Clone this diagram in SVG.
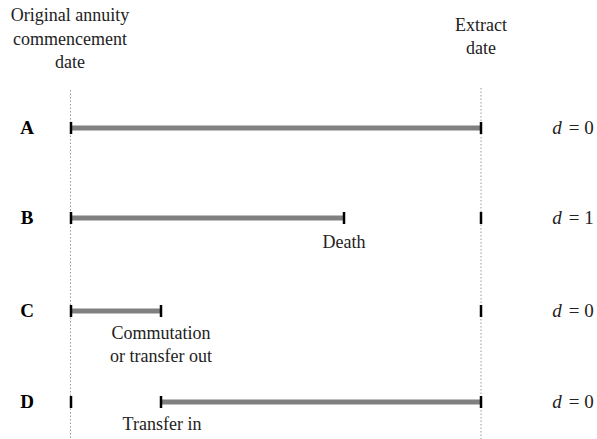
<svg xmlns="http://www.w3.org/2000/svg" width="597" height="439" viewBox="0 0 597 439">
<style>
text{font-family:"Liberation Serif","DejaVu Serif",serif;font-size:18px;fill:#222;text-anchor:middle}
.lbl{font-weight:bold;font-size:19px;fill:#000}
.guide{stroke:#999;stroke-width:1;stroke-dasharray:1.5 2;fill:none}
.bar{stroke:#808080;stroke-width:5;fill:none}
.tick{stroke:#000;stroke-width:2.5;fill:none}
.m{font-size:19px}
</style>
<rect width="597" height="439" fill="#fff"/>
<g id="guides">
<line class="guide" x1="70.5" y1="90" x2="70.5" y2="439"/>
<line class="guide" x1="481" y1="88" x2="481" y2="439"/>
</g>
<g id="headers">
<text x="70" y="21">Original annuity</text>
<text x="70" y="45">commencement</text>
<text x="70" y="68">date</text>
<text x="481" y="31">Extract</text>
<text x="481" y="54">date</text>
</g>
<g id="connectors">
<line class="bar" x1="71" y1="128" x2="481" y2="128"/>
<line class="bar" x1="71" y1="218" x2="344" y2="218"/>
<line class="bar" x1="71" y1="311" x2="161" y2="311"/>
<line class="bar" x1="161" y1="402" x2="481" y2="402"/>
</g>
<g id="rowA">
<text class="lbl" x="27" y="134">A</text>
<line class="tick" x1="71" y1="122" x2="71" y2="134"/>
<line class="tick" x1="481" y1="122" x2="481" y2="134"/>
<text class="m" y="134"><tspan x="557" font-style="italic">d</tspan><tspan x="574">=</tspan><tspan x="589">0</tspan></text>
</g>
<g id="rowB">
<text class="lbl" x="27" y="224">B</text>
<line class="tick" x1="71" y1="212" x2="71" y2="224"/>
<line class="tick" x1="344" y1="212" x2="344" y2="224"/>
<line class="tick" x1="481" y1="212" x2="481" y2="224"/>
<text x="344" y="248">Death</text>
<text class="m" y="224"><tspan x="557" font-style="italic">d</tspan><tspan x="574">=</tspan><tspan x="589">1</tspan></text>
</g>
<g id="rowC">
<text class="lbl" x="27" y="317">C</text>
<line class="tick" x1="71" y1="305" x2="71" y2="317"/>
<line class="tick" x1="161" y1="305" x2="161" y2="317"/>
<line class="tick" x1="481" y1="305" x2="481" y2="317"/>
<text x="161" y="339">Commutation</text>
<text x="161" y="362">or transfer out</text>
<text class="m" y="317"><tspan x="557" font-style="italic">d</tspan><tspan x="574">=</tspan><tspan x="589">0</tspan></text>
</g>
<g id="rowD">
<text class="lbl" x="27" y="408">D</text>
<line class="tick" x1="71" y1="396" x2="71" y2="408"/>
<line class="tick" x1="161" y1="396" x2="161" y2="408"/>
<line class="tick" x1="481" y1="396" x2="481" y2="408"/>
<text x="162" y="430">Transfer in</text>
<text class="m" y="408"><tspan x="557" font-style="italic">d</tspan><tspan x="574">=</tspan><tspan x="589">0</tspan></text>
</g>
</svg>
